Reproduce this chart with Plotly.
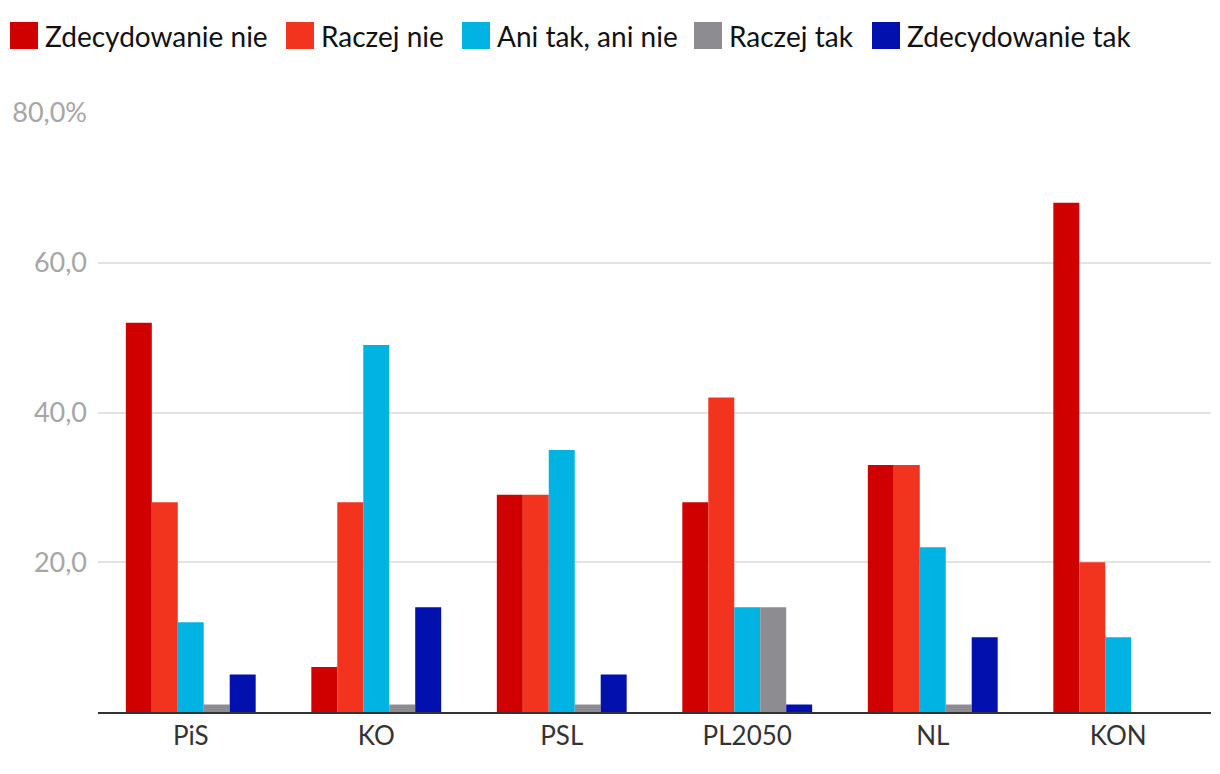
import plotly.graph_objects as go

categories = ["PiS", "KO", "PSL", "PL2050", "NL", "KON"]
series_names = ["Zdecydowanie nie", "Raczej nie", "Ani tak, ani nie", "Raczej tak", "Zdecydowanie tak"]
zdecydowanie_nie = [52, 6, 29, 28, 33, 68]
raczej_nie = [28, 28, 29, 42, 33, 20]
ani_tak_ani_nie = [12, 49, 35, 14, 22, 10]
raczej_tak = [1, 1, 1, 14, 1, 0]
zdecydowanie_tak = [5, 14, 5, 1, 10, 0]
ytick_vals = [20, 40, 60, 80]
ytick_text = ["20,0", "40,0", "60,0", "80,0%"]

colors = ["#d00000", "#f2341f", "#00b3e2", "#8d8c91", "#0210ae"]
values = [zdecydowanie_nie, raczej_nie, ani_tak_ani_nie, raczej_tak, zdecydowanie_tak]

# page geometry (page has an 8px body margin)
W, H = 1204, 758
ML, MR, MT, MB = 90, 1, 105, 54
PLOT_L = 8 + ML
PLOT_R = 8 + W - MR
PLOT_T = 8 + MT
PLOT_B = 8 + H - MB

def px_x(px):
    return (px - PLOT_L) / (PLOT_R - PLOT_L)

def px_y(py):
    return (PLOT_B - py) / (PLOT_B - PLOT_T)

fig = go.Figure()
for name, vals, col in zip(series_names, values, colors):
    fig.add_trace(go.Bar(x=categories, y=vals, name=name, showlegend=False,
                         marker=dict(color=col, line=dict(width=0))))

# custom legend (large swatches)
legend_left_px = [10, 286, 462, 694, 872]
shapes = []
annotations = []
for name, col, lx in zip(series_names, colors, legend_left_px):
    shapes.append(dict(type="rect", xref="paper", yref="paper",
                       x0=px_x(lx), x1=px_x(lx + 28), y0=px_y(49), y1=px_y(22),
                       fillcolor=col, line=dict(width=0)))
    annotations.append(dict(xref="paper", yref="paper", x=px_x(lx + 33), y=px_y(36),
                            xanchor="left", yanchor="middle", showarrow=False,
                            text=name, font=dict(family="Lato", size=28, color="#111111")))

fig.update_layout(
    width=W, height=H,
    barmode="group", bargap=0.3, bargroupgap=0,
    plot_bgcolor="white", paper_bgcolor="white",
    font=dict(family="Lato", size=26, color="#333333"),
    margin=dict(l=ML, r=MR, t=MT, b=MB, autoexpand=False),
    showlegend=False,
    shapes=shapes,
    annotations=annotations,
)
fig.update_xaxes(showline=True, linecolor="#333333", linewidth=2, ticks="",
                 tickfont=dict(size=26, color="#333333"), showgrid=False)
fig.update_yaxes(range=[0, 80], tickvals=ytick_vals, ticktext=ytick_text,
                 showgrid=True, gridcolor="#e3e3e3", gridwidth=1.5, zeroline=False,
                 tickfont=dict(size=27, color="#a6a6a6"), ticks="", ticklen=0,
                 ticklabelstandoff=10)
fig.write_html("out.html")
